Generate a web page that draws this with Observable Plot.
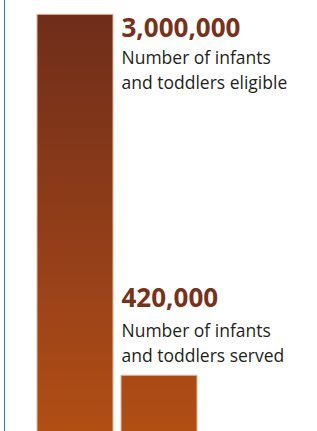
<!DOCTYPE html>
<html>
<head>
<meta charset="utf-8">
<script src="https://cdn.jsdelivr.net/npm/d3@7"></script>
<script src="https://cdn.jsdelivr.net/npm/@observablehq/plot@0.6"></script>
<style>
  html, body { margin: 0; padding: 0; background: #fff; overflow: hidden; }
  #wrap { position: relative; width: 317px; height: 431px; }
  #border { position: absolute; left: 4px; top: 0; width: 0; height: 431px; border-left: 1.5px solid #2f7dbf; }
  #chart { position: absolute; left: 0; top: 0; }
</style>
</head>
<body>
<div id="wrap"><div id="chart"></div><div id="border"></div></div>
<script>
const categories = ["eligible", "served"];
const values = [3000000, 420000];
const descriptions = ["Number of infants\nand toddlers eligible", "Number of infants\nand toddlers served"];

const data = categories.map((c, i) => ({category: c, value: values[i], desc: descriptions[i]}));
const fmt = d3.format(",");

const gradient = () => {
  const defs = d3.create("svg:defs");
  const g = defs.append("linearGradient")
    .attr("id", "barGrad")
    .attr("gradientUnits", "userSpaceOnUse")
    .attr("x1", 0).attr("x2", 0).attr("y1", 14).attr("y2", 431);
  g.append("stop").attr("offset", "0%").attr("stop-color", "#6f2d1a");
  g.append("stop").attr("offset", "65%").attr("stop-color", "#9a4219");
  g.append("stop").attr("offset", "100%").attr("stop-color", "#b14e14");
  return defs.node();
};

const numStyle = {fill: "#7a3119", fontSize: 26, fontWeight: 700, textAnchor: "start", lineAnchor: "bottom", dx: -38};
const descStyle = {fill: "#231f20", fontSize: 17.5, textAnchor: "start", lineAnchor: "bottom", lineHeight: 1.43, dx: -38};

const plot = Plot.plot({
  width: 317,
  height: 431,
  margin: 0,
  style: {fontFamily: "'Open Sans', sans-serif", background: "transparent", overflow: "visible"},
  x: {domain: categories, range: [36, 197], paddingInner: 0.1, paddingOuter: 0, axis: null},
  y: {domain: [0, 3000000], range: [434, 14.3], axis: null},
  marks: [
    gradient,
    Plot.barY(data, {x: "category", y: "value", fill: "url(#barGrad)", stroke: "#e6b79c", strokeWidth: 1}),
    Plot.text([data[0]], {x: () => "served", y: "value", text: d => fmt(d.value), ...numStyle, dy: 22}),
    Plot.text([data[0]], {x: () => "served", y: "value", text: "desc", ...descStyle, dy: 74}),
    Plot.text([data[1]], {x: "category", y: "value", text: d => fmt(d.value), ...numStyle, dy: -69}),
    Plot.text([data[1]], {x: "category", y: "value", text: "desc", ...descStyle, dy: -14})
  ]
});
document.getElementById("chart").appendChild(plot);
</script>
</body>
</html>
